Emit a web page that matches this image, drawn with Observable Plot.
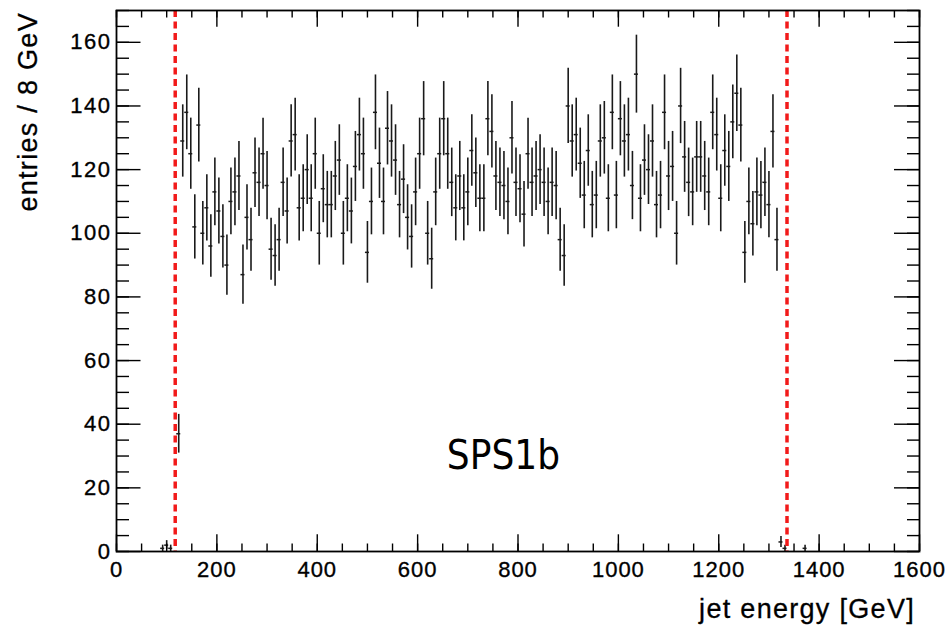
<!DOCTYPE html>
<html><head><meta charset="utf-8">
<script src="https://cdn.jsdelivr.net/npm/d3@7"></script>
<script src="https://cdn.jsdelivr.net/npm/@observablehq/plot@0.6"></script>
<style>
body{margin:0;background:#fff}
g[aria-label="x-axis tick label"] text{letter-spacing:1px;stroke:#000;stroke-width:0.35px}
g[aria-label="y-axis tick label"] text{letter-spacing:1.5px;stroke:#000;stroke-width:0.35px}
</style>
</head><body><div id="chart"></div>
<script>
// histogram bin centers (GeV), 8 GeV bins
const binCenters = [92,100,108,124,132,140,148,156,164,172,180,188,196,204,212,220,228,236,244,252,260,268,276,284,292,300,308,316,324,332,340,348,356,364,372,380,388,396,404,412,420,428,436,444,452,460,468,476,484,492,500,508,516,524,532,540,548,556,564,572,580,588,596,604,612,620,628,636,644,652,660,668,676,684,692,700,708,716,724,732,740,748,756,764,772,780,788,796,804,812,820,828,836,844,852,860,868,876,884,892,900,908,916,924,932,940,948,956,964,972,980,988,996,1004,1012,1020,1028,1036,1044,1052,1060,1068,1076,1084,1092,1100,1108,1116,1124,1132,1140,1148,1156,1164,1172,1180,1188,1196,1204,1212,1220,1228,1236,1244,1252,1260,1268,1276,1284,1292,1300,1308,1316,1324,1332,1372];
// entries per bin
const entries = [1,2,1,37,129,138,125,102,134,100,108,96,113,107,99,90,110,113,118,87,105,98,119,116,125,115,95,93,98,116,107,129,131,108,111,120,111,125,100,114,109,109,118,123,100,111,107,121,131,125,94,110,138,122,110,133,129,123,109,117,105,99,113,125,136,100,92,113,125,136,125,116,108,118,108,113,126,119,111,111,136,132,118,116,115,110,130,116,114,106,125,116,118,120,116,110,116,115,98,93,140,129,131,122,112,126,109,112,129,130,111,138,112,136,129,131,115,150,111,123,120,129,109,112,138,118,121,100,140,124,116,113,124,124,118,113,138,131,111,126,121,135,144,134,94,110,103,113,112,116,109,132,98,3,1,1];
const binHalfWidth = 4;
const cutLines = [117, 1336];
const xTickLabels = [0,200,400,600,800,1000,1200,1400,1600];
const yTickLabels = [0,20,40,60,80,100,120,140,160];
const xMinorTicks = d3.range(0, 1601, 50);
const yMinorTicks = d3.range(0, 171, 5);
const plotLabel = "SPS1b";
const labelX = 771, labelY = 30;
const xTitle = "jet energy [GeV]";
const yTitle = "entries / 8 GeV";

const W = 946, H = 630, mL = 116, mR = 27, mT = 10, mB = 79;
const pw = W - mL - mR, ph = H - mT - mB;
const data = binCenters.map((c, i) => ({c, n: entries[i], e: Math.sqrt(entries[i])}));
const font = "'Liberation Sans', Arial, Helvetica, sans-serif";

const chart = Plot.plot({
  width: W, height: H,
  marginLeft: mL, marginRight: mR, marginTop: mT, marginBottom: mB,
  x: {domain: [0, 1600]},
  y: {domain: [0, 170]},
  style: {fontFamily: font, fontSize: "21px", color: "black", background: "white"},
  marks: [
    Plot.ruleX(data, {x: "c", y1: d => d.n - d.e, y2: d => d.n + d.e, stroke: "#1a1a1a", strokeWidth: 1.6}),
    Plot.ruleY(data, {y: "n", x1: d => d.c - binHalfWidth, x2: d => d.c + binHalfWidth, stroke: "#1a1a1a", strokeWidth: 1.5}),
    Plot.ruleX(cutLines, {stroke: "#f21a1a", strokeWidth: 3.5, strokeDasharray: "7,4.5"}),
    // y ticks left (inside) and right (inside)
    Plot.ruleY(yMinorTicks, {insetRight: pw - 13, stroke: "black", strokeWidth: 1.4}),
    Plot.ruleY(yTickLabels, {insetRight: pw - 24.5, stroke: "black", strokeWidth: 1.4}),
    Plot.ruleY(yMinorTicks, {insetLeft: pw - 12, stroke: "black", strokeWidth: 1.4}),
    Plot.ruleY(yTickLabels, {insetLeft: pw - 25, stroke: "black", strokeWidth: 1.4}),
    // x ticks bottom and top (inside)
    Plot.ruleX(xMinorTicks, {insetTop: ph - 7.5, stroke: "black", strokeWidth: 1.4}),
    Plot.ruleX(xTickLabels, {insetTop: ph - 16.7, stroke: "black", strokeWidth: 1.4}),
    Plot.ruleX(xMinorTicks, {insetBottom: ph - 7.5, stroke: "black", strokeWidth: 1.4}),
    Plot.ruleX(xTickLabels, {insetBottom: ph - 16.7, stroke: "black", strokeWidth: 1.4}),
    Plot.frame({stroke: "black", strokeWidth: 1.8}),
    Plot.axisX({ticks: xTickLabels, tickSize: 0, tickPadding: 10, label: null, tickFormat: d => String(d), fontSize: 22}),
    Plot.axisY({ticks: yTickLabels, tickSize: 0, tickPadding: 5, label: null, tickFormat: d => String(d), fontSize: 22}),
    Plot.text([plotLabel], {x: labelX, y: labelY, text: d => d, fontSize: 40,
      fontFamily: "'Liberation Sans Narrow', 'DejaVu Sans Condensed', 'Liberation Sans', sans-serif", fill: "black"})
  ]
});
document.getElementById("chart").appendChild(chart);

const svg = d3.select(chart);
svg.append("text").text(xTitle)
  .attr("x", 915).attr("y", 618)
  .attr("text-anchor", "end")
  .style("font-family", font).style("font-size", "27px").style("letter-spacing", "1.3px")
  .style("stroke", "#000").style("stroke-width", "0.3px")
  .attr("fill", "black");
svg.append("text").text(yTitle)
  .attr("transform", "translate(37,12) rotate(-90)")
  .attr("text-anchor", "end")
  .style("font-family", font).style("font-size", "27px").style("letter-spacing", "1.3px")
  .style("stroke", "#000").style("stroke-width", "0.3px")
  .attr("fill", "black");
</script>
</body></html>
